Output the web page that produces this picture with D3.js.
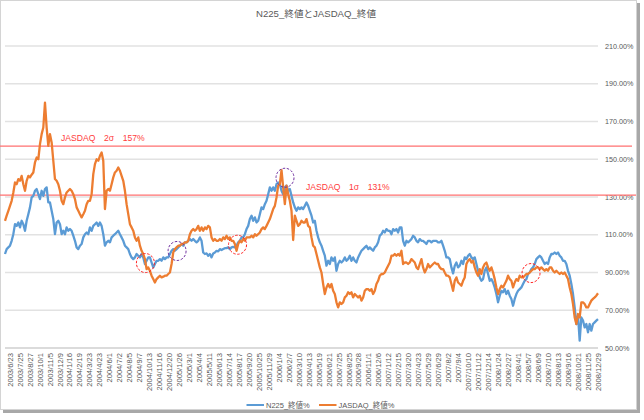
<!DOCTYPE html>
<html><head><meta charset="utf-8">
<script src="https://cdn.jsdelivr.net/npm/d3@7"></script>
<style>
html,body{margin:0;padding:0;background:#fff;}
svg{display:block;font-family:"Liberation Sans","Noto Sans CJK JP",sans-serif;}
</style></head>
<body><svg id="c" width="644" height="420"></svg>
<script>
const xLabels = ["2003/6/23","2003/7/25","2003/8/27","2003/10/1","2003/11/5","2003/12/9","2004/1/16","2004/2/19","2004/3/23","2004/4/23","2004/6/1","2004/7/2","2004/8/5","2004/9/7","2004/10/13","2004/11/16","2004/12/20","2005/1/26","2005/3/1","2005/4/4","2005/5/11","2005/6/13","2005/7/14","2005/8/17","2005/9/20","2005/10/25","2005/11/29","2006/1/4","2006/2/7","2006/3/10","2006/4/13","2006/5/19","2006/6/21","2006/7/25","2006/8/25","2006/9/28","2006/11/1","2006/12/6","2007/1/12","2007/2/15","2007/3/20","2007/4/23","2007/5/29","2007/6/29","2007/8/2","2007/9/4","2007/10/10","2007/11/12","2007/12/14","2008/1/24","2008/2/27","2008/4/1","2008/5/7","2008/6/9","2008/7/10","2008/8/13","2008/9/16","2008/10/21","2008/11/25","2008/12/29"];

const yTicks = [50,70,90,110,130,150,170,190,210];

const n225 = [
99.8,102.4,103.3,104.2,106.8,110.3,115.6,114.7,116.5,113.9,
117.4,115.6,112.1,117.4,120.9,124.5,129.8,130.6,133.3,134.2,
131.5,128.9,133.3,130.6,134.2,135.1,127.1,127.1,122.7,118.3,
110.3,116.5,117.4,115.6,110.3,112.1,110.3,113.9,112.1,113.0,
112.1,109.5,106.8,103.3,102.4,104.2,105.1,108.6,110.3,111.2,
110.3,113.9,112.1,114.7,115.6,116.5,114.7,116.5,114.7,110.3,
104.2,106.0,106.8,106.0,108.6,109.5,110.3,111.2,112.1,110.3,
108.6,106.8,104.2,103.3,102.4,99.8,98.0,97.1,98.0,99.8,
98.9,98.0,99.8,98.0,94.5,96.2,98.0,98.0,95.3,92.7,
94.5,96.2,96.2,97.1,96.2,98.0,97.1,98.0,98.0,99.8,
101.5,102.4,101.5,102.4,103.3,104.2,105.1,104.2,106.0,106.0,
106.8,107.7,106.8,107.7,106.8,106.0,106.8,108.6,106.8,100.6,
99.8,100.1,98.9,99.8,98.0,100.1,100.6,101.5,101.2,102.4,
101.9,102.4,102.9,102.9,103.3,102.4,103.3,103.6,103.3,104.2,
106.0,106.8,108.6,108.6,110.3,113.0,114.7,118.3,120.1,117.4,
119.2,116.5,117.4,120.9,124.5,123.6,126.2,128.0,131.5,135.1,
133.3,135.1,133.3,136.8,137.7,136.8,133.3,131.5,135.1,136.0,
133.3,134.2,130.6,127.1,124.5,122.7,124.5,123.6,124.5,123.6,
125.3,127.1,125.3,122.7,120.1,116.5,117.4,112.1,108.6,106.0,
104.2,101.5,98.9,93.6,96.2,94.5,98.0,96.2,98.0,90.9,
94.5,96.2,95.3,96.2,98.0,96.2,97.1,98.9,96.2,98.0,
96.2,95.3,98.0,99.8,101.5,102.4,103.3,104.2,102.4,103.3,
102.4,101.5,103.3,104.2,106.0,109.5,110.3,112.1,111.2,113.0,
112.1,112.1,110.3,113.0,112.1,113.0,111.2,113.9,113.9,106.8,
104.2,106.8,106.0,106.8,107.7,109.5,108.6,106.8,106.0,107.7,
106.8,106.8,106.0,105.1,106.8,106.8,106.0,106.8,106.8,106.8,
106.0,106.0,106.8,104.2,101.5,98.0,98.0,97.1,92.7,89.5,
93.6,95.3,92.7,93.6,96.2,94.5,98.0,97.1,98.9,99.8,
98.0,97.1,98.0,94.5,90.9,87.4,85.6,86.5,90.9,92.7,
89.2,85.6,86.5,84.7,82.1,78.6,74.2,77.7,80.3,79.5,
81.2,78.6,80.3,77.7,76.0,72.4,76.0,78.6,80.3,81.2,
82.1,83.9,85.6,86.5,89.2,90.0,91.8,92.7,94.5,97.1,
98.0,98.9,98.0,96.2,94.5,95.3,94.5,98.0,99.8,99.8,
100.6,99.8,100.6,98.9,98.0,96.2,96.2,94.5,90.9,88.3,
83.9,78.6,71.5,62.7,67.1,53.9,66.2,64.5,60.9,62.7,
58.3,62.7,59.2,62.7,63.6,64.5,65.3];

const jasdaq = [
117.4,120.1,122.7,125.3,128.0,132.4,137.7,136.8,139.5,138.6,
141.2,136.8,133.3,138.6,141.2,140.4,141.8,143.0,148.3,150.9,
150.0,158.0,163.3,166.8,180.0,166.8,157.1,163.3,158.9,149.2,
139.5,138.6,136.8,133.3,128.0,126.2,129.8,132.4,133.3,134.2,
133.3,131.5,128.9,124.5,122.7,120.9,119.2,120.9,122.7,126.2,
128.0,128.0,131.5,142.1,147.4,150.0,149.2,151.8,153.6,149.2,
123.6,133.3,134.2,133.3,136.8,140.4,143.0,143.9,145.6,143.9,
141.2,138.6,133.3,126.2,120.9,115.6,113.9,112.1,108.6,106.8,
108.6,104.2,101.5,99.8,97.1,91.8,92.7,90.9,88.3,86.5,
84.7,86.5,87.4,88.3,87.4,87.8,88.3,88.3,89.2,90.0,
94.5,100.6,102.4,103.3,104.2,104.2,105.1,105.1,106.0,106.0,
106.8,110.3,112.1,113.0,112.1,113.0,114.7,112.1,113.9,112.1,
113.9,113.0,114.7,113.9,108.6,106.8,107.7,106.8,106.8,107.7,
106.8,108.6,107.7,109.5,107.7,108.6,106.8,106.8,105.1,101.5,
105.1,106.8,106.0,107.7,106.8,108.6,108.6,108.6,109.5,108.6,
110.3,109.5,110.3,111.2,113.0,113.9,113.0,114.7,116.5,118.3,
120.9,123.6,125.3,129.8,136.0,136.8,144.2,135.1,126.2,136.0,
131.5,128.0,122.7,107.2,120.1,117.4,114.7,115.6,117.4,116.5,
116.5,118.3,114.7,113.9,108.6,104.2,103.3,99.8,96.2,92.7,
90.0,83.9,78.6,82.1,83.9,82.1,83.9,80.3,78.6,74.2,
71.5,74.2,73.3,74.2,76.8,77.7,79.5,78.6,79.5,76.8,
78.6,77.7,76.8,77.7,75.1,76.8,80.3,81.2,81.2,80.3,
81.2,78.6,80.3,83.9,85.6,88.3,89.2,89.2,90.0,91.8,
93.6,95.3,98.9,98.9,99.8,98.9,99.8,98.9,101.5,94.5,
95.3,95.3,94.5,95.3,97.1,96.2,95.3,92.7,91.8,94.5,
97.1,92.7,90.0,91.8,94.5,92.7,93.6,94.5,95.3,94.5,
94.5,92.7,91.8,91.8,90.0,88.3,88.3,87.4,83.9,80.3,
85.6,87.4,84.7,83.9,83.0,85.6,87.4,94.5,96.2,97.1,
95.3,96.2,92.7,90.0,88.3,91.8,89.2,92.7,94.5,95.3,
92.7,90.9,92.7,90.0,86.5,82.1,78.6,81.2,83.0,82.1,
83.9,85.6,88.3,86.5,85.6,82.1,84.7,86.5,85.6,88.3,
87.4,87.4,88.3,89.2,89.2,90.0,90.9,91.8,91.8,92.7,
92.7,91.8,92.7,91.8,90.9,91.8,90.9,92.7,92.7,90.9,
90.0,90.9,90.0,89.2,90.0,89.2,90.0,88.3,86.5,82.1,
78.6,73.3,66.2,62.7,68.0,66.2,74.2,74.2,73.3,71.5,
71.5,73.3,75.1,76.0,76.8,77.7,79.0];

const seriesNames = ["N225_終値%","JASDAQ_終値%"];
const sigmaLevels = [157, 131];
const sigmaTexts = ["JASDAQ\u30002σ\u3000157%","JASDAQ\u30001σ\u3000131%"];
// annotation circles: data index / value at centre
const markIdx = [84.3, 103.3, 139.6, 168.1, 315.8];
const markVal = [95.0, 101.4, 104.7, 140.2, 89.7];
const markKind = ["red","purple","red","purple","red"];
const title = "N225_終値とJASDAQ_終値";

const svg = d3.select("#c");
const colors = ["#5b9bd5","#ed7d31"];
const gray = "#595959";

// frame + shadow
svg.append("rect").attr("x",0.5).attr("y",0.5).attr("width",636).attr("height",409)
  .attr("fill","#fff").attr("stroke","#d4d4d4");
svg.append("rect").attr("x",637).attr("y",3).attr("width",3).attr("height",410).attr("fill","#a8a8a8");
svg.append("rect").attr("x",3).attr("y",410).attr("width",637).attr("height",3).attr("fill","#a8a8a8");

const x = d3.scaleLinear().domain([0, n225.length-1]).range([5, 598]);
const y = d3.scaleLinear().domain([50, 210]).range([348, 46]);
const xl = d3.scalePoint().domain(xLabels).range([10, 598]);

// gridlines
svg.append("g").selectAll("line").data(yTicks.filter(d=>d>50)).join("line")
  .attr("x1",5).attr("x2",598).attr("y1",d=>y(d)).attr("y2",d=>y(d))
  .attr("stroke","#e2e2e2").attr("stroke-width",1.3);
svg.append("line").attr("x1",5).attr("x2",598).attr("y1",y(50)).attr("y2",y(50))
  .attr("stroke","#cfcfcf").attr("stroke-width",1.6);

// y labels
svg.append("g").selectAll("text").data(yTicks).join("text")
  .attr("x",605).attr("y",d=>y(d)).attr("dy","0.35em")
  .attr("font-size",7.2).attr("fill",gray)
  .text(d=>d3.format(".2f")(d)+"%");

// x labels
svg.append("g").selectAll("text").data(xLabels).join("text")
  .attr("transform",d=>`translate(${xl(d)},353) rotate(-90)`)
  .attr("text-anchor","end").attr("dy","0.35em")
  .attr("font-size",7.6).attr("fill",gray).text(d=>d);

// sigma lines
const sigEnd = [632, 636];
sigmaLevels.forEach((lv,i)=>{
  svg.append("line").attr("x1",0).attr("x2",sigEnd[i]).attr("y1",y(lv)).attr("y2",y(lv))
    .attr("stroke","#ff7070").attr("stroke-width",1.2);
});
const sigX = [61, 306];
sigmaLevels.forEach((lv,i)=>{
  svg.append("text").attr("x",sigX[i]).attr("y",y(lv)-5.5)
    .attr("font-size",8.6).attr("fill","#ff3c3c").text(sigmaTexts[i]);
});

// series
const line = d3.line().x((d,i)=>x(i)).y(d=>y(d)).curve(d3.curveLinear);
[n225, jasdaq].forEach((s,k)=>{
  svg.append("path").datum(s).attr("d",line).attr("fill","none")
    .attr("stroke",colors[k]).attr("stroke-width",2.3).attr("stroke-linejoin","round");
});

// annotation circles
const markColor = {red:"#ff2020", purple:"#7030a0"};
svg.append("g").selectAll("ellipse").data(markIdx).join("ellipse")
  .attr("cx",(d)=>x(d)).attr("cy",(d,i)=>y(markVal[i]))
  .attr("rx",9).attr("ry",9.5)
  .attr("fill","none").attr("stroke",(d,i)=>markColor[markKind[i]])
  .attr("stroke-width",1).attr("stroke-dasharray","2.5,1.6");

// title
svg.append("text").attr("x",316).attr("y",17).attr("text-anchor","middle")
  .attr("font-size",9.6).attr("fill",gray).text(title);

// legend
const legX = [246.5, 319];
seriesNames.forEach((nm,k)=>{
  svg.append("line").attr("x1",legX[k]).attr("x2",legX[k]+17.5).attr("y1",405).attr("y2",405)
    .attr("stroke",colors[k]).attr("stroke-width",2);
  svg.append("text").attr("x",legX[k]+19.5).attr("y",405).attr("dy","0.35em")
    .attr("font-size",7.5).attr("fill",gray).text(nm);
});
</script></body></html>
